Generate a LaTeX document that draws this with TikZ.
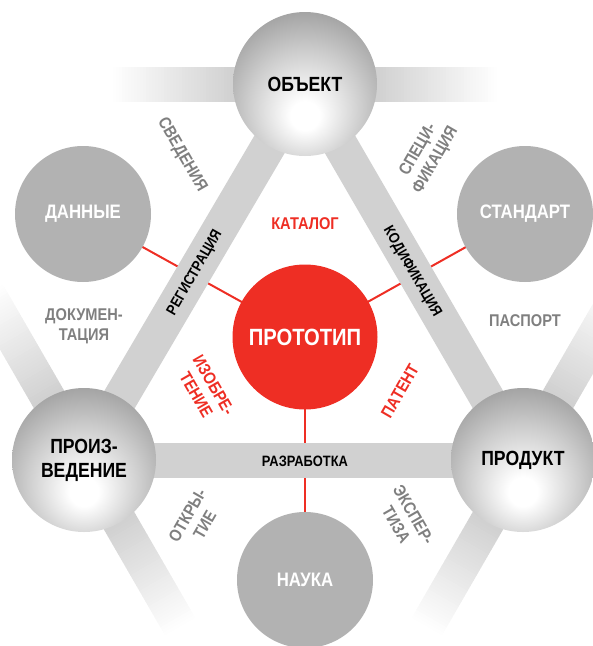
\documentclass[tikz,border=0pt]{standalone}
\usepackage{fontspec}
\setmainfont{Liberation Sans}[FakeStretch=0.86]
\definecolor{barcol}{HTML}{D1D1D1}
\definecolor{circcol}{HTML}{B2B2B2}
\definecolor{lblgray}{HTML}{7F7F7F}
\definecolor{protored}{HTML}{EE2E24}
\pgfdeclareradialshading{ballshade}{\pgfpoint{0bp}{-12bp}}{color(0bp)=(white); color(5bp)=(white); color(20bp)=(black!20); color(34bp)=(black!40); color(46bp)=(black!54); color(62bp)=(black!62)}
\pgfdeclarelayer{lines}
\pgfdeclarelayer{bars}
\pgfsetlayers{lines,bars,main}
\newcommand\fadebar[2]{%
  \begin{scope}[shift={(#1)}, rotate=#2]
    \fill[barcol] (0,-17.5) rectangle (73,17.5);
    \foreach \i in {0,...,39} {
      \pgfmathtruncatemacro\p{100-\i*2.5}
      \fill[barcol!\p!white] ({72+\i*3},-17.5) rectangle ({75.4+\i*3},17.5);
    }
  \end{scope}}
\begin{document}
\begin{tikzpicture}[x=1pt,y=-1pt,
  ball/.style={circle, minimum size=144pt, inner sep=0pt, shading=ballshade, text=black,
    font=\fontsize{20.5}{24}\selectfont\bfseries, align=center},
  flat/.style={circle, minimum size=136pt, inner sep=0pt, fill=circcol, text=white,
    font=\fontsize{19.5}{23}\selectfont\bfseries},
  protonode/.style={circle, minimum size=145pt, inner sep=0pt, fill=protored, text=white,
    font=\fontsize{23.5}{27}\selectfont\bfseries},
  graylbl/.style={text=lblgray, font=\fontsize{17}{20}\selectfont\bfseries, align=center, inner sep=0pt},
  redlbl/.style={text=protored, font=\fontsize{17}{20}\selectfont\bfseries, align=center, inner sep=0pt},
  barlbl/.style={text=black, font=\fontsize{15}{18}\selectfont\bfseries, inner sep=0pt},
  barline/.style={draw=barcol, line width=35pt},
  redline/.style={draw=protored, line width=2pt}]
\useasboundingbox (0,0) rectangle (593,646);
\clip (0,0) rectangle (593,646);

% nodes
\node[ball] (obj) at (305,84) {ОБЪЕКТ};
\node[ball] (prz) at (84,460) {ПРОИЗ-\\ВЕДЕНИЕ};
\node[ball] (prd) at (523,460) {ПРОДУКТ};
\node[flat] (dan) at (83,214) {ДАННЫЕ};
\node[flat] (std) at (525,214) {СТАНДАРТ};
\node[flat] (nau) at (305,580) {НАУКА};
\node[protonode] (pro) at (305,337) {ПРОТОТИП};

% bars
\begin{pgfonlayer}{bars}
  \draw[barline] (obj.center) -- (prz.center);
  \draw[barline] (obj.center) -- (prd.center);
  \draw[barline] (prz.center) -- (prd.center);
  \fadebar{obj.center}{180}
  \fadebar{obj.center}{0}
  \fadebar{prz.center}{120}
  \fadebar{prz.center}{-60}
  \fadebar{prd.center}{60}
  \fadebar{prd.center}{240}
\end{pgfonlayer}

% red connectors
\begin{pgfonlayer}{lines}
  \draw[redline] (pro.center) -- (dan.center);
  \draw[redline] (pro.center) -- (std.center);
  \draw[redline] (pro.center) -- (nau.center);
\end{pgfonlayer}

% labels
\node[graylbl, rotate=-60] (sved) at (182,155) {СВЕДЕНИЯ};
\node[graylbl, rotate=60] (spec) at (427,155) {СПЕЦИ-\\ФИКАЦИЯ};
\node[graylbl] (doc) at (84,326) {ДОКУМЕН-\\ТАЦИЯ};
\node[graylbl] (pasp) at (525,321) {ПАСПОРТ};
\node[graylbl, rotate=60] (otk) at (196,520) {ОТКРЫ-\\ТИЕ};
\node[graylbl, rotate=-60] (eksp) at (405,520) {ЭКСПЕР-\\ТИЗА};
\node[redlbl] (kat) at (305,224) {КАТАЛОГ};
\node[redlbl, rotate=-60] (izo) at (205,390) {ИЗОБРЕ-\\ТЕНИЕ};
\node[redlbl, rotate=60] (pat) at (400,391) {ПАТЕНТ};
\node[barlbl, rotate=60] (reg) at (195,273) {РЕГИСТРАЦИЯ};
\node[barlbl, rotate=-60] (kod) at (412,272) {КОДИФИКАЦИЯ};
\node[barlbl] (razr) at (305,461) {РАЗРАБОТКА};
\end{tikzpicture}
\end{document}
